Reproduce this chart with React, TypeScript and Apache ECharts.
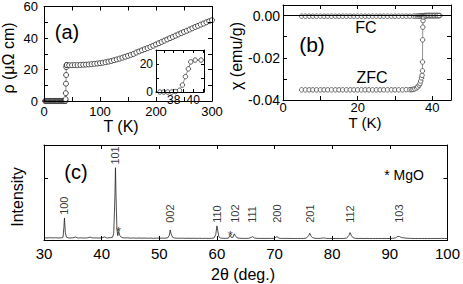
import React, { useEffect, useRef } from 'react';
import * as echarts from 'echarts';

// (a) resistivity rho (µΩ cm) vs T (K)
const rhoTemp = [
  2, 3, 4, 5, 6, 7, 8, 9, 10, 11, 12, 13, 14, 15, 16, 17, 18, 19, 20, 21, 22, 23, 24, 25, 26, 27, 28, 29, 30,
  31, 32, 33, 34, 35, 35.8, 36.6, 37.0, 37.4, 37.8, 38.2, 38.6, 38.9, 39.2, 39.5, 39.75, 40.2, 40.8,
  45, 50, 55, 60, 65, 70, 75, 80, 85, 90, 95, 100, 105, 110, 115, 120, 125, 130, 135, 140, 145, 150,
  155, 160, 165, 170, 175, 180, 185, 190, 195, 200, 205, 210, 215, 220, 225, 230, 235, 240, 245, 250,
  255, 260, 265, 270, 275, 280, 285, 290, 295, 300,
];
const rhoValue = [
  0, 0, 0, 0, 0, 0, 0, 0, 0, 0, 0, 0, 0, 0, 0, 0, 0, 0, 0, 0, 0, 0, 0, 0, 0, 0, 0, 0, 0,
  0, 0, 0, 0, 0, 0, 0, 0, 0, 0, 0.3, 1.2, 5, 11, 16.5, 21.5, 22.8, 22.8,
  22.7, 22.7, 22.8, 22.8, 22.9, 23.0, 23.1, 23.2, 23.4, 23.6, 23.8, 24.0, 24.3, 24.6, 25.0, 25.4, 25.9, 26.4, 26.9, 27.5, 28.1, 28.7,
  29.3, 29.9, 30.8, 31.5, 32.2, 32.9, 33.6, 34.3, 35.1, 35.9, 36.7, 37.5, 38.3, 39.1, 39.9, 40.7, 41.5, 42.3, 43.1, 43.9,
  44.6, 45.4, 46.2, 47.0, 47.7, 48.5, 49.2, 50.0, 50.7, 51.3,
];

// (b) susceptibility chi (emu/g) vs T (K)
const fcTemp = [
  5, 6, 7, 8, 9, 10, 11, 12, 13, 14, 15, 16, 17, 18, 19, 20, 21, 22, 23, 24, 25, 26, 27, 28, 29, 30, 31, 32, 33, 34, 35,
  35.5, 36, 36.3, 36.6, 36.9, 37.1, 37.3, 37.5, 37.7, 37.9, 38.1, 38.3, 38.5, 38.7, 38.9, 39.1, 39.3, 39.5, 39.7, 39.9,
  40.1, 40.3, 40.5, 40.7, 40.9, 41.1, 41.3, 41.5, 41.7, 42.0,
];
const fcValue = [
  -0.0003, -0.0003, -0.0003, -0.0003, -0.0003, -0.0003, -0.0003, -0.0003, -0.0003, -0.0003, -0.0003, -0.0003, -0.0003,
  -0.0003, -0.0003, -0.0003, -0.0003, -0.0003, -0.0003, -0.0003, -0.0003, -0.0003, -0.0003, -0.0003, -0.0003, -0.0003,
  -0.0003, -0.0003, -0.0003, -0.0003, -0.0003,
  -0.0003, -0.0003, -0.0003, -0.0002, -0.0002, -0.0002, -0.0002, -0.0001, -0.0001, 0, 0, 0, 0, 0, 0, 0, 0, 0, 0, 0,
  0, 0, 0, 0, 0, 0, 0, 0, 0, 0,
];
const zfcTemp = [
  5, 6, 7, 8, 9, 10, 11, 12, 13, 14, 15, 16, 17, 18, 19, 20, 21, 22, 23, 24, 25, 26, 27, 28, 29, 30, 31, 32, 33, 34,
  34.5, 34.85, 35.3, 35.76, 36.1, 36.46, 36.7, 36.9, 37.1, 37.25, 37.35, 37.37, 37.4, 37.45, 37.5, 37.7, 38.0, 38.3,
  38.6, 39.0, 39.4, 39.8, 40.2, 40.6, 41.0, 41.4, 41.8,
];
const zfcValue = [
  -0.0352, -0.0352, -0.0352, -0.0352, -0.0352, -0.0352, -0.0352, -0.0352, -0.0352, -0.0352, -0.0352, -0.0352, -0.0352,
  -0.0352, -0.0352, -0.0352, -0.0352, -0.0352, -0.0352, -0.0352, -0.0352, -0.0352, -0.0352, -0.0352, -0.0352, -0.0352,
  -0.0352, -0.0352, -0.0351, -0.0351,
  -0.0351, -0.035, -0.0347, -0.0343, -0.0338, -0.033, -0.0322, -0.031, -0.0295, -0.0283, -0.0262, -0.022, -0.0115,
  -0.0055, -0.0024, -0.0008, -0.0003, -0.0001, 0, 0, 0, 0, 0, 0, 0, 0, 0,
];

// (c) XRD pattern
const xrdAngle = [
  30.0, 30.5, 31.0, 31.5, 32.0, 32.5, 33.0, 33.3, 33.45, 33.55, 33.7, 33.9, 34.2, 34.5, 35.0, 35.5, 35.8, 36.0, 36.5,
  37.0, 37.5, 38.0, 38.3, 38.6, 39.0, 39.5, 40.0, 40.5, 40.8, 41.0, 41.5, 41.9, 42.1, 42.3, 42.4, 42.5, 42.65, 42.8,
  42.95, 43.15, 43.4, 43.7, 44.0, 44.5, 45.0, 45.5, 46.0, 46.5, 47.0, 47.5, 48.0, 48.5, 49.0, 49.5, 50.0, 50.5, 51.0,
  51.5, 51.75, 51.9, 52.05, 52.3, 52.6, 53.0, 53.5, 54.0, 54.5, 55.0, 55.5, 56.0, 56.5, 57.0, 57.5, 58.0, 58.5, 59.0,
  59.5, 59.8, 60.0, 60.15, 60.35, 60.6, 61.0, 61.5, 62.0, 62.3, 62.5, 62.8, 63.0, 63.2, 63.5, 64.0, 64.5, 65.0, 65.5,
  66.0, 66.2, 66.5, 67.0, 67.5, 68.0, 68.5, 69.0, 69.5, 70.0, 70.4, 70.7, 71.0, 71.5, 72.0, 72.5, 73.0, 73.5, 74.0,
  74.5, 75.0, 75.5, 75.9, 76.1, 76.35, 76.6, 77.0, 77.5, 78.0, 78.5, 78.8, 79.0, 79.5, 80.0, 80.5, 81.0, 81.5, 82.0,
  82.5, 82.9, 83.1, 83.35, 83.6, 84.0, 84.5, 85.0, 85.5, 86.0, 86.5, 87.0, 87.5, 88.0, 88.5, 89.0, 89.5, 90.0, 90.5,
  91.0, 91.4, 91.7, 92.0, 92.4, 92.8, 93.2, 93.6, 94.0, 94.5, 95.0, 95.5, 96.0, 96.5, 97.0, 97.5, 98.0, 98.5, 99.0,
  99.5, 100.0,
];
const xrdIntensity = [
  36, 33, 38, 34, 37, 33, 36, 45, 200, 360, 120, 45, 35, 33, 36, 48, 36, 33, 35,
  32, 34, 46, 36, 33, 35, 32, 34, 50, 36, 34, 38, 45, 110, 700, 1180, 700, 180, 70,
  140, 75, 45, 36, 33, 35, 31, 33, 30, 33, 30, 32, 29, 31, 28, 31, 29, 31, 30,
  36, 80, 164, 100, 45, 33, 30, 28, 30, 27, 29, 27, 29, 26, 28, 26, 28, 26, 28,
  32, 90, 230, 150, 50, 32, 28, 27, 30, 80, 40, 45, 100, 70, 35, 28, 27, 26, 28,
  45, 55, 32, 27, 26, 27, 25, 27, 25, 28, 55, 35, 27, 25, 27, 25, 26, 24, 26,
  25, 26, 30, 70, 110, 60, 38, 28, 26, 27, 35, 30, 26, 25, 26, 24, 26, 24, 26,
  30, 75, 120, 70, 38, 27, 25, 26, 24, 26, 24, 25, 24, 26, 24, 25, 24, 25, 27,
  35, 60, 55, 40, 35, 30, 28, 26, 25, 24, 25, 24, 25, 24, 25, 24, 25, 24, 26,
  24, 25,
];
const peakHkl = ['100', '101', '002', '110', '102', '111', '200', '201', '112', '103'];
const peakAngle = [33.55, 42.4, 51.9, 60.0, 63.1, 66.15, 70.35, 76.15, 83.15, 91.55];
const peakIntensity = [360, 1180, 164, 230, 100, 55, 55, 110, 120, 60];
const mgoAngle = [42.95, 62.3];
const mgoIntensity = [140, 80];

const FONT = 'Liberation Sans, Arial, Helvetica, sans-serif';

function zip(a: number[], b: number[]) {
  return a.map((v, i) => [v, b[i]]);
}

export default function App() {
  const ref = useRef<HTMLDivElement>(null);
  useEffect(() => {
    const chart = echarts.init(ref.current!, null, { renderer: 'svg' });

    const line = { show: true, onZero: false, lineStyle: { color: '#000', width: 1 } };
    const tick = (len: number) => ({ show: true, inside: true, length: len, lineStyle: { color: '#000', width: 1 } });
    const lab = (size: number, margin: number, fn: (v: number) => string) => ({
      show: true,
      fontSize: size,
      fontFamily: FONT,
      color: '#000',
      margin,
      formatter: fn,
      showMinLabel: true,
      showMaxLabel: true,
      hideOverlap: false,
    });
    const noLab = { show: false };

    const multiple = (v: number, m: number) => Math.abs(v / m - Math.round(v / m)) < 1e-6;

    const makeAxisPair = (
      kind: 'x' | 'y',
      gridIndex: number,
      min: number,
      max: number,
      interval: number | undefined,
      tickLen: number,
      label: any,
    ) => {
      const base: any = { type: 'value', gridIndex, min, max, splitLine: { show: false }, axisLine: line, axisTick: tick(tickLen), z: 5 };
      if (interval !== undefined) base.interval = interval;
      else base.splitNumber = 5;
      const a = { ...base, position: kind === 'x' ? 'bottom' : 'left', axisLabel: label };
      const b = { ...base, position: kind === 'x' ? 'top' : 'right', axisLabel: noLab };
      return [a, b];
    };

    const xAxis = [
      ...makeAxisPair('x', 0, 0, 300, 50, 4, lab(13, 4, (v) => (multiple(v, 100) ? String(v) : ''))),
      ...makeAxisPair('x', 1, 36.2, 41.1, undefined, 3, lab(12, 2, (v) => (Math.abs(v - 38) < 1e-6 || Math.abs(v - 40) < 1e-6 ? String(Math.round(v)) : ''))),
      ...makeAxisPair('x', 2, 0, 45, 10, 4, lab(13, 1, (v) => (multiple(v, 20) ? String(v) : ''))),
      ...makeAxisPair('x', 3, 30, 100, 10, 4, lab(15, 6, (v) => String(v))),
    ];
    const yAxis = [
      ...makeAxisPair('y', 0, 0, 60, 10, 4, lab(13, 6, (v) => (multiple(v, 20) ? String(v) : ''))),
      ...makeAxisPair('y', 1, 0, 30, 10, 3, lab(12, 3, (v) => (v === 0 || v === 20 ? String(v) : ''))),
      ...makeAxisPair('y', 2, -0.04, 0.005, 0.01, 4, lab(14, 3, (v) => {
        const r = v * 100;
        if (Math.abs(r - Math.round(r)) < 1e-6 && Math.round(r) % 2 === 0 && v < 0.001) return (Math.round(r) / 100).toFixed(2);
        return '';
      })),
      ...makeAxisPair('y', 3, 0, 1550, 1000, 4, noLab),
    ];

    const sym = (size: number, border: string) => ({
      symbol: 'circle',
      symbolSize: size,
      showAllSymbol: true,
      itemStyle: { color: '#fff', borderColor: border, borderWidth: 0.8 },
      lineStyle: { color: '#777', width: 0.8 },
      clip: true,
    });

    const textEl = (text: string, x: number, y: number, size: number, rot = 0) => ({
      type: 'text',
      x,
      y,
      rotation: rot,
      style: {
        text,
        fontSize: size,
        fontFamily: FONT,
        fill: '#000',
        align: 'center',
        verticalAlign: 'middle',
        textAlign: 'center',
        textVerticalAlign: 'middle',
      },
    });

    const option: any = {
      animation: false,
      backgroundColor: '#fff',
      grid: [
        { left: 44, top: 5, width: 168, height: 96 },
        { left: 156, top: 50, width: 48, height: 42 },
        { left: 283, top: 5, width: 168, height: 95 },
        { left: 44, top: 145, width: 407, height: 95 },
      ],
      xAxis,
      yAxis,
      series: [
        { type: 'line', xAxisIndex: 0, yAxisIndex: 0, data: zip(rhoTemp, rhoValue), ...sym(5, '#222') },
        { type: 'line', xAxisIndex: 2, yAxisIndex: 2, data: zip(rhoTemp, rhoValue), ...sym(4.5, '#333') },
        {
          type: 'line', xAxisIndex: 4, yAxisIndex: 4, data: zip(fcTemp, fcValue), ...sym(4.5, '#444'),
          markLine: {
            silent: true, symbol: ['none', 'none'], label: { show: false },
            lineStyle: { color: '#000', width: 1, type: 'solid' },
            data: [{ yAxis: 0 }],
          },
        },
        { type: 'line', xAxisIndex: 4, yAxisIndex: 4, data: zip(zfcTemp, zfcValue), ...sym(4.5, '#444') },
        {
          type: 'line', xAxisIndex: 6, yAxisIndex: 6, data: zip(xrdAngle, xrdIntensity), symbol: 'none',
          lineStyle: { color: '#222', width: 0.8 },
        },
        {
          type: 'scatter', xAxisIndex: 6, yAxisIndex: 6, symbolSize: 1,
          itemStyle: { color: 'rgba(0,0,0,0)' },
          data: peakHkl.map((h, i) => ({ name: h, value: [peakAngle[i], Math.max(peakIntensity[i] + 50, 280)] })),
          label: {
            show: true, position: 'inside', rotate: 90, align: 'left', verticalAlign: 'middle',
            formatter: '{b}', fontSize: 11, fontFamily: FONT, color: '#000',
          },
        },
        {
          type: 'scatter', xAxisIndex: 6, yAxisIndex: 6, symbolSize: 1,
          itemStyle: { color: 'rgba(0,0,0,0)' },
          data: mgoAngle.map((a, i) => [a, mgoIntensity[i]]),
          label: {
            show: true, position: 'inside', align: 'center', verticalAlign: 'middle',
            formatter: '*', fontSize: 13, fontFamily: FONT, color: '#000',
          },
        },
      ],
      graphic: [
        textEl('ρ (μΩ cm)', 8, 58, 16, Math.PI / 2),
        textEl('T (K)', 121, 126, 16),
        textEl('(a)', 67, 32, 20),
        textEl('χ (emu/g)', 236, 56, 16, Math.PI / 2),
        textEl('T (K)', 365, 122, 15),
        textEl('(b)', 312, 44, 21),
        textEl('FC', 366, 27, 16),
        textEl('ZFC', 372, 77, 16),
        textEl('Intensity', 17, 197, 16, Math.PI / 2),
        textEl('2θ (deg.)', 243, 274, 16),
        textEl('(c)', 76, 172, 20),
        textEl('* MgO', 404, 175, 14),
      ],
    };
    chart.setOption(option);
    return () => chart.dispose();
  }, []);
  return (
    <div
      ref={ref}
      style={{ position: 'fixed', left: 0, top: 0, width: 463, height: 284, background: '#fff' }}
    />
  );
}
